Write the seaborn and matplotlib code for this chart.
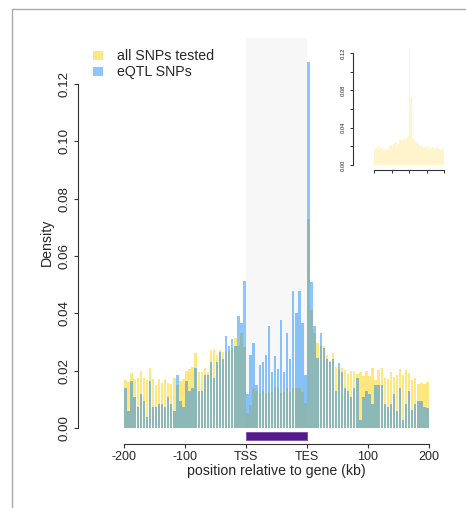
import numpy as np
import pandas as pd
import matplotlib
matplotlib.use('Agg')
import matplotlib.pyplot as plt
from matplotlib.patches import Patch, Rectangle
from matplotlib.lines import Line2D
import seaborn as sns

# density per bin: 40 bins upstream (5 kb), 20 bins gene body, 40 bins downstream
all_snps = [0.0168, 0.0162, 0.0191, 0.0170, 0.0176, 0.0199, 0.0175, 0.0168, 0.0208, 0.0170,
            0.0150, 0.0170, 0.0157, 0.0170, 0.0158, 0.0154, 0.0175, 0.0150, 0.0165, 0.0170,
            0.0199, 0.0205, 0.0212, 0.0261, 0.0195, 0.0195, 0.0208, 0.0195, 0.0272, 0.0275,
            0.0255, 0.0271, 0.0264, 0.0270, 0.0270, 0.0278, 0.0313, 0.0286, 0.0333, 0.0282,
            0.0053, 0.0079, 0.0136, 0.0129, 0.0121, 0.0129, 0.0118, 0.0121, 0.0125, 0.0144,
            0.0144, 0.0121, 0.0124, 0.0138, 0.0126, 0.0140, 0.0140, 0.0140, 0.0125, 0.0087,
            0.0730, 0.0410, 0.0330, 0.0298, 0.0286, 0.0286, 0.0255, 0.0235, 0.0260, 0.0212,
            0.0205, 0.0208, 0.0202, 0.0187, 0.0199, 0.0199, 0.0187, 0.0195, 0.0181, 0.0199,
            0.0181, 0.0210, 0.0168, 0.0202, 0.0210, 0.0173, 0.0170, 0.0194, 0.0177, 0.0185,
            0.0205, 0.0185, 0.0202, 0.0191, 0.0168, 0.0173, 0.0152, 0.0156, 0.0154, 0.0160]
eqtl_snps = [0.0141, 0.0060, 0.0164, 0.0107, 0.0073, 0.0119, 0.0095, 0.0038, 0.0164, 0.0073,
             0.0073, 0.0085, 0.0085, 0.0073, 0.0107, 0.0085, 0.0060, 0.0185, 0.0094, 0.0073,
             0.0164, 0.0130, 0.0141, 0.0208, 0.0130, 0.0130, 0.0186, 0.0186, 0.0230, 0.0175,
             0.0230, 0.0264, 0.0242, 0.0321, 0.0286, 0.0310, 0.0286, 0.0389, 0.0365, 0.0513,
             0.0118, 0.0254, 0.0296, 0.0150, 0.0219, 0.0230, 0.0254, 0.0354, 0.0197, 0.0251,
             0.0206, 0.0377, 0.0195, 0.0333, 0.0240, 0.0478, 0.0400, 0.0478, 0.0365, 0.0185,
             0.1276, 0.0510, 0.0356, 0.0243, 0.0330, 0.0280, 0.0240, 0.0231, 0.0239, 0.0130,
             0.0228, 0.0195, 0.0140, 0.0130, 0.0107, 0.0140, 0.0173, 0.0028, 0.0107, 0.0128,
             0.0119, 0.0084, 0.0150, 0.0150, 0.0150, 0.0084, 0.0074, 0.0084, 0.0119, 0.0060,
             0.0138, 0.0028, 0.0084, 0.0129, 0.0063, 0.0084, 0.0095, 0.0095, 0.0072, 0.0070]
# small inset: all SNPs around the TSS
inset_all = [0.017, 0.018, 0.016, 0.019, 0.017, 0.018, 0.016, 0.017, 0.016, 0.017, 0.020, 0.021,
             0.019, 0.022, 0.024, 0.025, 0.024, 0.026, 0.027, 0.026, 0.028, 0.027, 0.029, 0.031,
             0.125, 0.073, 0.030, 0.028, 0.025, 0.024, 0.022, 0.020, 0.021, 0.019, 0.018, 0.019,
             0.018, 0.020, 0.017, 0.018, 0.019, 0.017, 0.018, 0.019, 0.017, 0.016, 0.017, 0.018]

x_tick_pos = [0, 20, 40, 60, 80, 100]
x_tick_labels = ['-200', '-100', 'TSS', 'TES', '100', '200']
y_ticks = [0.00, 0.02, 0.04, 0.06, 0.08, 0.10, 0.12]
inset_y_ticks = [0.00, 0.02, 0.04, 0.06, 0.08, 0.10, 0.12]
inset_y_labels = ['0.00', '', '0.04', '', '0.08', '', '0.12']

yellow = (1.0, 0.82, 0.0)
blue = (0.0, 0.5, 1.0)
purple = '#551A8B'
axis_col = '#333333'

sns.set_style('white')
plt.rcParams['font.family'] = ['Liberation Sans', 'DejaVu Sans']

W, H = 466, 508
fig = plt.figure(figsize=(W / 100, H / 100), dpi=100)


def px_rect(x0, y0, x1, y1):
    return [x0 / W, 1 - y1 / H, (x1 - x0) / W, (y1 - y0) / H]


# main panel
ax = fig.add_axes(px_rect(111.8, 38, 441.2, 428))
df = pd.DataFrame({'pos': np.arange(len(all_snps)) + 0.5,
                   'all': all_snps, 'eqtl': eqtl_snps})
ax.axvspan(40, 60, color='#F7F7F7', zorder=0, lw=0)
sns.barplot(data=df, x='pos', y='all', native_scale=True, orient='x', color=yellow,
            alpha=0.5, saturation=1, width=0.8, errorbar=None, linewidth=0, ax=ax)
sns.barplot(data=df, x='pos', y='eqtl', native_scale=True, orient='x', color=blue,
            alpha=0.45, saturation=1, width=0.8, errorbar=None, linewidth=0, ax=ax)

ax.set_xlim(-4, 104)
ax.set_ylim(0, 0.136)
for s in ['top', 'right']:
    ax.spines[s].set_visible(False)
ax.spines['left'].set_position(('outward', 34 * 0.72))
ax.spines['left'].set_bounds(0, 0.12)
ax.spines['bottom'].set_position(('outward', 16 * 0.72))
ax.spines['bottom'].set_bounds(0, 100)
for s in ['left', 'bottom']:
    ax.spines[s].set_color(axis_col)
    ax.spines[s].set_linewidth(0.8)
ax.set_xticks(x_tick_pos)
ax.set_xticklabels(x_tick_labels)
ax.set_yticks(y_ticks)
ax.set_yticklabels([f'{v:.2f}' for v in y_ticks])
ax.tick_params(bottom=True, left=True, direction='out', length=3, width=0.8,
               color=axis_col, labelsize=9.0, pad=2)
ax.tick_params(axis='y', labelsize=9.6)
for lab in ax.get_yticklabels():
    lab.set_rotation(90)
    lab.set_va('center')
ax.set_xlabel('position relative to gene (kb)', fontsize=10.2, labelpad=1)
ax.set_ylabel('')
fig.text(47 / W, 1 - 242 / H, 'Density', rotation=90, ha='center', va='center', fontsize=10.2)

# gene body marker under the axis
ax.add_patch(Rectangle((40, -0.0014), 20, -0.0028, facecolor=purple,
                       edgecolor='#7A4AAA', lw=0.6, clip_on=False))

ax.legend(handles=[Patch(facecolor=yellow, alpha=0.5, lw=0),
                   Patch(facecolor=blue, alpha=0.45, lw=0)],
          labels=['all SNPs tested', 'eQTL SNPs'], loc='upper left',
          bbox_to_anchor=(93 / W, 1 - 49 / H), bbox_transform=fig.transFigure,
          frameon=False, fontsize=10.2, handlelength=0.7, handleheight=0.6,
          handletextpad=1.0, labelspacing=0.15, borderpad=0, borderaxespad=0)

# inset
axi = fig.add_axes(px_rect(374, 40, 444, 165))
dfi = pd.DataFrame({'pos': np.arange(len(inset_all)) + 0.5, 'all': inset_all})
sns.barplot(data=dfi, x='pos', y='all', native_scale=True, orient='x', color='#FFF4CC',
            saturation=1, width=1.0, errorbar=None, linewidth=0, ax=axi)
axi.set_xlim(0, len(inset_all))
axi.set_ylim(0, 0.134)
for s in ['top', 'right']:
    axi.spines[s].set_visible(False)
axi.spines['left'].set_position(('outward', 21 * 0.72))
axi.spines['left'].set_bounds(0, 0.12)
axi.spines['bottom'].set_position(('outward', 5 * 0.72))
for s in ['left', 'bottom']:
    axi.spines[s].set_color(axis_col)
    axi.spines[s].set_linewidth(0.8)
axi.set_xticks([0, 12, 24, 36, 48])
axi.set_xticklabels([])
axi.set_yticks(inset_y_ticks)
axi.set_yticklabels(inset_y_labels)
axi.tick_params(bottom=True, left=True, direction='out', length=2.5, width=0.7,
                color=axis_col, labelsize=4.2, pad=2.5)
for lab in axi.get_yticklabels():
    lab.set_rotation(90)
    lab.set_va('center')
axi.set_xlabel('')
axi.set_ylabel('')
axi.add_patch(Rectangle((23.7, -0.001), 0.6, -0.003, facecolor=purple, lw=0, clip_on=False))

# page frame
fig.add_artist(Line2D([12 / W, 12 / W], [0, 1 - 9 / H], color='#AAAAAA', lw=1,
                      transform=fig.transFigure))
fig.add_artist(Line2D([12 / W, 1], [1 - 9 / H, 1 - 9 / H], color='#AAAAAA', lw=1,
                      transform=fig.transFigure))

fig.savefig('out.png', dpi=100)
